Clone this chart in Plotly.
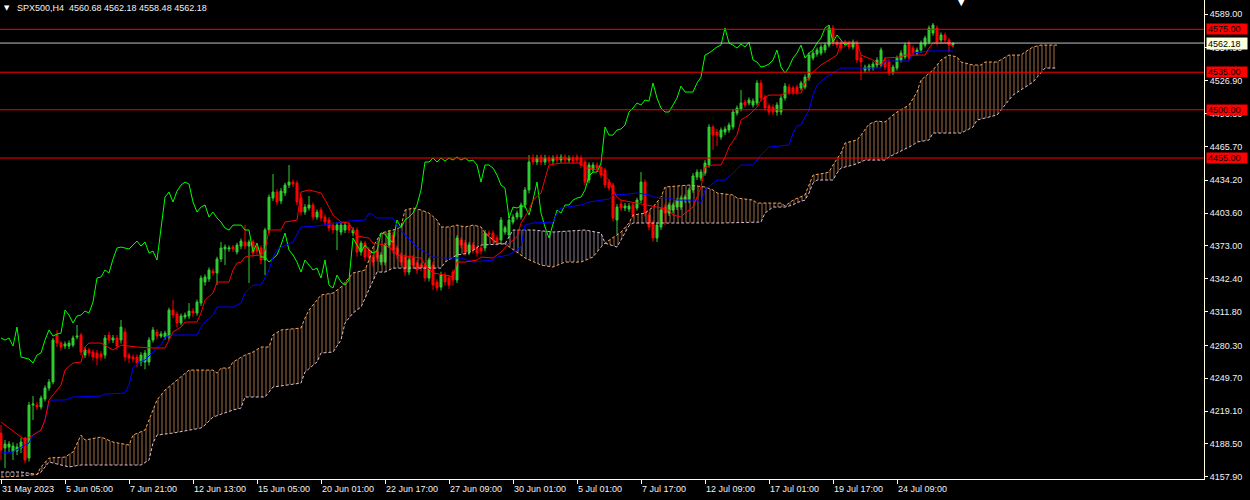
import plotly.graph_objects as go

# ---------------- data ----------------
opens = [
 4198.6,4184.6,4185.6,4180.9,4181.8,4184.6,4194.0,4175.3,4224.7,4224.7,
 4222.9,4230.3,4240.6,4246.2,4290.0,4282.5,4279.7,4279.7,4280.6,4288.1,
 4290.0,4271.3,4276.0,4274.1,4273.2,4272.3,4271.3,4290.0,4285.3,4287.2,
 4285.3,4292.8,4271.3,4269.5,4269.5,4264.8,4264.8,4264.8,4285.3,4292.8,
 4289.0,4288.1,4288.1,4313.3,4309.5,4301.2,4306.8,4307.7,4312.3,4310.5,
 4319.8,4339.4,4342.2,4349.6,4347.8,4360.8,4370.2,4370.2,4372.0,4367.4,
 4372.9,4376.7,4372.9,4376.7,4372.0,4371.1,4359.9,4387.9,4417.7,4423.3,
 4414.9,4422.4,4429.8,4432.6,4431.7,4417.7,4404.6,4408.4,4411.2,4400.0,
 4406.5,4400.0,4397.2,4392.5,4387.9,4386.0,4387.9,4392.5,4385.1,4387.9,
 4367.4,4375.7,4369.2,4362.7,4367.4,4358.0,4358.0,4373.9,4383.2,4371.1,
 4364.6,4362.7,4348.7,4361.8,4357.1,4355.2,4355.2,4343.1,4355.2,4339.4,
 4334.7,4345.9,4343.1,4348.7,4341.3,4378.5,4375.7,4367.4,4373.9,4371.1,
 4371.1,4371.1,4385.1,4385.1,4380.4,4378.5,4386.0,4383.2,4395.3,4400.0,
 4400.0,4411.2,4425.2,4455.0,4451.3,4456.0,4451.3,4455.0,4452.2,4456.0,
 4453.1,4456.0,4453.1,4455.0,4456.0,4455.0,4451.3,4434.5,4443.8,4448.5,
 4446.6,4443.8,4432.6,4429.8,4397.2,4412.1,4408.4,4407.4,4411.2,4408.4,
 4415.8,4432.6,4401.9,4394.4,4380.4,4390.7,4409.3,4403.7,4406.5,4409.3,
 4409.3,4415.8,4415.8,4425.2,4437.3,4436.4,4441.0,4448.5,4483.9,4479.2,
 4474.6,4479.2,4481.1,4483.9,4496.9,4500.7,4507.2,4506.3,4504.4,4506.3,
 4524.9,4511.9,4503.5,4502.5,4497.9,4497.9,4510.9,4521.2,4520.3,4521.2,
 4520.3,4521.2,4529.6,4548.2,4552.0,4552.9,4555.7,4560.3,4576.2,4563.1,
 4562.2,4563.1,4562.2,4558.5,4562.2,4548.2,4537.0,4538.0,4538.9,4541.7,
 4541.7,4546.4,4544.5,4535.2,4538.9,4546.4,4549.2,4562.2,4557.5,4552.9,
 4555.7,4560.3,4563.1,4571.5,4576.2,4565.0,4569.7,4565.0,4560.68]

highs = [
 4206.1,4192.1,4191.0,4190.0,4189.0,4194.0,4194.9,4227.5,4233.1,4227.5,
 4233.5,4243.0,4249.0,4287.2,4294.7,4284.5,4284.0,4285.0,4289.5,4299.3,
 4292.0,4278.5,4278.0,4276.5,4276.0,4275.0,4290.0,4293.0,4290.0,4290.0,
 4304.0,4296.0,4273.5,4272.0,4272.0,4274.0,4276.0,4288.0,4297.5,4295.5,
 4293.5,4294.0,4315.5,4322.6,4312.0,4310.0,4311.0,4319.8,4315.0,4323.0,
 4345.5,4346.5,4353.0,4352.0,4363.0,4376.7,4374.5,4373.5,4374.0,4376.0,
 4380.0,4392.5,4379.0,4379.0,4374.5,4373.5,4390.0,4421.0,4440.1,4426.0,
 4427.0,4432.0,4448.5,4435.0,4434.0,4420.0,4412.0,4419.6,4413.5,4407.0,
 4409.0,4402.5,4400.0,4395.0,4395.0,4395.0,4395.5,4395.0,4390.5,4390.5,
 4378.0,4378.0,4372.0,4365.0,4370.0,4367.0,4376.0,4388.0,4386.0,4373.5,
 4367.0,4365.0,4362.5,4364.5,4359.5,4357.5,4357.5,4362.0,4358.0,4342.0,
 4349.0,4348.5,4346.0,4351.0,4383.0,4381.0,4378.5,4376.5,4376.5,4373.5,
 4373.5,4388.0,4387.5,4387.5,4383.0,4400.0,4392.0,4400.0,4402.5,4406.0,
 4413.5,4428.0,4457.8,4458.5,4458.0,4458.5,4458.0,4457.5,4457.5,4458.5,
 4458.5,4458.5,4457.5,4457.5,4458.5,4457.5,4453.5,4451.0,4451.0,4451.0,
 4449.0,4446.0,4435.0,4432.0,4412.0,4415.8,4413.0,4413.0,4413.5,4418.0,
 4441.9,4435.0,4404.5,4397.0,4395.0,4409.0,4412.0,4413.5,4413.5,4418.0,
 4420.0,4421.0,4427.5,4441.0,4444.5,4444.5,4453.0,4486.5,4485.8,4482.0,
 4483.5,4484.5,4488.0,4500.5,4504.0,4518.4,4509.5,4511.5,4510.5,4527.5,
 4527.7,4514.0,4506.0,4505.0,4507.0,4513.5,4525.0,4524.0,4522.5,4523.5,
 4527.0,4533.0,4553.5,4555.0,4558.0,4561.0,4562.5,4579.0,4579.0,4565.5,
 4564.5,4565.0,4564.5,4565.5,4564.5,4551.0,4542.0,4543.0,4545.0,4549.0,
 4558.0,4549.0,4547.0,4542.0,4550.5,4555.5,4562.5,4564.5,4560.0,4558.0,
 4564.5,4569.0,4578.5,4580.9,4578.5,4572.0,4572.0,4567.0,4562.18]

lows = [
 4173.4,4166.0,4181.0,4173.4,4178.0,4180.0,4170.6,4172.0,4210.7,4220.0,
 4220.5,4228.0,4238.0,4244.0,4278.8,4275.5,4277.0,4277.0,4278.5,4286.0,
 4271.0,4268.5,4270.0,4266.0,4262.0,4266.0,4268.0,4282.0,4282.5,4276.0,
 4282.0,4265.5,4264.0,4264.5,4260.0,4261.0,4258.0,4261.5,4283.0,4286.0,
 4287.0,4285.5,4285.0,4305.5,4297.0,4299.0,4304.5,4305.0,4307.0,4308.0,
 4317.0,4336.0,4339.5,4345.5,4336.6,4358.0,4355.2,4367.5,4367.5,4365.0,
 4370.0,4370.0,4338.5,4363.0,4365.0,4356.0,4345.9,4385.0,4415.0,4411.0,
 4412.0,4419.5,4427.0,4428.0,4411.0,4401.5,4402.0,4406.0,4397.0,4397.5,
 4396.0,4392.0,4386.5,4384.5,4369.2,4383.0,4385.0,4385.0,4382.0,4363.0,
 4364.0,4359.0,4359.5,4354.0,4358.5,4355.0,4355.0,4371.0,4366.0,4361.0,
 4354.5,4345.0,4346.0,4352.0,4347.0,4349.5,4339.5,4340.0,4332.0,4331.0,
 4331.5,4336.0,4333.0,4336.5,4338.5,4371.0,4364.0,4364.5,4366.0,4363.0,
 4365.0,4368.0,4381.0,4375.5,4373.5,4375.5,4383.5,4380.5,4393.0,4397.5,
 4397.5,4408.0,4422.0,4448.5,4448.5,4448.5,4448.5,4449.5,4449.5,4450.5,
 4450.5,4450.5,4450.5,4449.5,4450.5,4446.0,4429.5,4431.5,4441.0,4443.0,
 4436.5,4427.0,4424.5,4396.0,4384.1,4405.5,4405.5,4404.5,4399.0,4406.0,
 4413.0,4400.5,4387.5,4377.0,4376.7,4388.0,4392.5,4401.0,4403.5,4406.5,
 4406.5,4413.0,4413.0,4422.5,4434.5,4433.5,4438.5,4446.0,4462.5,4466.0,
 4472.0,4476.5,4478.5,4481.5,4494.5,4498.5,4502.0,4504.0,4502.0,4504.0,
 4508.5,4499.0,4495.0,4495.0,4494.5,4495.1,4508.5,4514.0,4514.0,4514.0,
 4518.0,4519.0,4527.0,4546.0,4549.5,4550.5,4553.0,4558.0,4559.5,4557.5,
 4555.0,4558.5,4556.0,4556.0,4543.5,4527.7,4534.5,4535.5,4536.5,4539.0,
 4539.0,4537.0,4531.5,4532.5,4536.5,4544.0,4547.0,4545.5,4550.0,4550.5,
 4553.0,4558.0,4561.0,4569.0,4560.5,4562.5,4562.5,4553.8,4558.48]

closes = [
 4182.8,4188.4,4188.4,4186.5,4185.6,4190.2,4173.4,4224.7,4225.7,4222.9,
 4231.2,4240.6,4246.2,4285.3,4282.5,4278.8,4281.6,4282.5,4287.2,4289.0,
 4274.1,4276.0,4273.2,4269.5,4268.5,4269.5,4287.2,4285.3,4287.2,4279.7,
 4297.4,4269.5,4268.5,4267.6,4263.9,4271.3,4273.2,4285.3,4294.7,4289.0,
 4290.9,4291.8,4313.3,4308.6,4301.2,4307.7,4308.6,4312.3,4310.5,4320.7,
 4343.1,4344.1,4350.6,4347.8,4360.8,4371.1,4372.0,4371.1,4370.2,4373.9,
 4377.6,4372.9,4376.7,4366.4,4368.3,4359.9,4387.9,4418.6,4423.3,4414.0,
 4424.2,4429.8,4432.6,4430.7,4414.0,4404.6,4409.3,4411.2,4400.0,4404.6,
 4399.1,4395.3,4389.7,4387.9,4392.5,4392.5,4392.5,4387.9,4387.9,4367.4,
 4375.7,4362.7,4362.7,4358.0,4361.8,4364.6,4373.9,4385.1,4369.2,4364.6,
 4358.0,4348.7,4359.9,4355.2,4350.6,4352.4,4343.1,4359.9,4336.6,4333.8,
 4345.9,4339.4,4336.6,4341.3,4380.4,4373.9,4367.4,4373.9,4369.2,4366.4,
 4368.3,4385.1,4384.1,4378.5,4376.7,4397.2,4390.0,4397.2,4400.0,4403.7,
 4411.2,4425.2,4451.3,4451.3,4455.0,4451.3,4455.0,4452.2,4455.0,4453.1,
 4456.0,4453.1,4455.0,4452.2,4453.1,4448.5,4432.6,4448.5,4448.5,4445.7,
 4439.1,4429.8,4427.0,4399.1,4409.3,4408.4,4410.2,4410.2,4401.9,4415.8,
 4432.6,4403.7,4390.7,4380.4,4392.5,4406.5,4403.7,4411.2,4411.2,4415.8,
 4417.7,4418.6,4425.2,4438.2,4441.9,4441.9,4450.3,4483.9,4476.4,4476.4,
 4481.1,4482.0,4485.8,4497.9,4501.6,4506.3,4504.4,4509.1,4508.1,4524.9,
 4510.9,4501.6,4497.9,4497.9,4504.4,4510.9,4522.1,4516.5,4516.5,4516.5,
 4524.9,4530.5,4551.0,4552.9,4555.7,4558.5,4560.3,4576.2,4562.2,4560.3,
 4557.5,4561.3,4558.5,4563.1,4546.4,4544.5,4539.8,4540.8,4542.6,4546.4,
 4555.7,4539.8,4534.2,4539.8,4548.2,4552.9,4560.3,4548.2,4552.9,4555.7,
 4562.2,4566.9,4576.2,4579.0,4563.1,4569.7,4565.0,4560.3,4562.18]

# Tenkan-sen (red) and Kijun-sen (blue): (bar index, price)
tenkan_idx = [0,6,8,10,11,12,15,16,18,20,21,22,25,28,30,34,38,41,42,43,45,46,49,50,51,53,54,57,58,59,60,61,62,65,66,67,70,71,74,75,77,80,82,83,85,87,88,89,92,93,96,98,99,103,105,106,108,111,113,114,116,119,120,123,125,127,129,130,132,133,135,137,140,145,146,147,149,150,152,153,154,155,159,162,164,167,168,170,171,173,174,175,176,178,180,181,182,184,185,187,189,190,192,195,196,200,201,203,205,207,209,210,214,215,217,218,219,220,221,225,226,231,232,233,237,238]
tenkan_val = [4208.9,4192.1,4196.7,4201.4,4210.7,4229.4,4243.4,4257.3,4263.9,4264.8,4278.8,4282.5,4282.5,4276.0,4280.6,4278.8,4277.9,4277.9,4285.3,4292.8,4297.4,4302.1,4302.1,4310.5,4322.6,4329.1,4339.4,4339.4,4350.6,4357.1,4358.0,4362.7,4363.6,4364.6,4369.2,4387.9,4387.9,4395.3,4397.2,4423.3,4425.2,4422.4,4409.3,4401.9,4395.3,4394.4,4387.9,4382.3,4380.4,4375.7,4373.9,4369.2,4364.6,4362.7,4361.8,4355.2,4347.8,4345.9,4344.1,4358.0,4358.0,4359.9,4362.7,4361.8,4367.4,4375.7,4381.4,4394.4,4406.5,4415.8,4422.4,4448.5,4450.3,4450.3,4445.7,4445.7,4443.8,4441.0,4434.5,4425.2,4418.6,4415.8,4413.0,4411.2,4409.3,4406.5,4401.9,4400.0,4403.7,4409.3,4418.6,4427.9,4446.6,4448.5,4448.5,4456.0,4465.3,4476.4,4490.4,4495.1,4502.5,4509.1,4513.7,4513.7,4515.6,4515.6,4524.9,4535.2,4541.7,4546.4,4551.0,4563.1,4563.1,4551.0,4548.2,4546.4,4543.6,4541.7,4548.2,4549.2,4551.0,4551.0,4557.5,4562.2,4562.2,4558.5]

kijun_idx = [0,3,6,7,8,10,11,12,13,16,18,25,26,31,32,33,34,36,38,39,40,41,43,49,50,51,53,54,58,60,61,63,65,67,68,69,70,73,75,79,87,91,92,93,94,98,99,101,104,106,108,111,115,118,123,124,127,130,131,133,138,139,140,145,147,152,153,157,159,162,163,167,169,174,175,176,179,181,183,185,188,190,192,197,198,199,200,201,202,203,204,206,208,210,220,221,224,227,228,232,238]
kijun_val = [4180.0,4180.9,4187.4,4189.3,4196.7,4201.4,4210.7,4227.5,4229.4,4229.4,4232.2,4233.1,4235.0,4235.9,4243.4,4259.2,4263.9,4266.7,4274.1,4278.8,4280.6,4288.1,4290.0,4290.0,4297.4,4302.1,4308.6,4316.1,4316.1,4319.8,4329.1,4336.6,4336.6,4350.6,4362.7,4369.2,4372.0,4376.7,4390.7,4391.6,4396.3,4397.2,4403.7,4401.9,4399.1,4399.1,4392.5,4383.2,4372.0,4367.4,4362.7,4361.8,4361.8,4358.0,4359.9,4362.7,4364.6,4372.0,4392.5,4394.4,4395.3,4403.7,4408.4,4411.2,4414.0,4416.8,4420.5,4421.4,4422.4,4420.5,4418.6,4417.7,4415.8,4415.8,4413.0,4425.2,4434.5,4434.5,4441.0,4448.5,4448.5,4457.8,4465.3,4467.1,4478.3,4484.8,4485.8,4493.2,4499.7,4513.7,4523.0,4529.6,4534.2,4538.9,4538.9,4545.4,4545.4,4545.4,4552.9,4554.8,4554.8]

# Senkou Span A (sandy) and Span B (thistle), drawn 26 bars ahead
span_a_idx = [0,5,9,10,12,16,18,20,21,24,25,28,32,33,36,39,41,44,47,53,54,55,57,58,61,63,65,67,68,70,75,76,77,80,83,85,88,91,92,93,95,98,100,101,103,105,107,109,110,112,114,116,118,120,121,124,126,
              131,135,138,141,145,148,150,151,
              155,157,158,161,163,165,166,172,176,178,179,183,184,188,189,195,196,198,201,203,206,207,208,210,211,214,215,216,217,219,221,223,224,227,229,230,233,235,237,239,240,243,245,246,249,252,255,256,258,260,264]
span_a_val = [4157.6,4158.5,4160.0,4167.0,4175.3,4176.2,4180.9,4196.7,4192.1,4193.9,4194.9,4190.2,4187.4,4196.7,4201.4,4229.4,4238.7,4248.0,4257.3,4257.3,4254.5,4259.2,4259.2,4264.8,4271.3,4274.1,4278.8,4278.8,4290.0,4294.7,4296.5,4305.8,4313.3,4327.3,4329.1,4334.7,4347.8,4350.6,4359.9,4372.0,4385.1,4387.9,4390.7,4406.5,4408.4,4406.5,4403.7,4397.2,4390.7,4390.7,4392.5,4390.7,4392.5,4390.7,4385.1,4375.7,4375.0,
              4361.8,4355.2,4353.4,4358.0,4358.0,4362.7,4372.0,4375.7,
              4386.0,4394.4,4401.9,4403.7,4409.3,4418.6,4428.0,4429.8,4428.0,4425.2,4422.4,4420.5,4417.7,4415.8,4413.0,4413.0,4410.2,4415.8,4420.5,4439.1,4441.0,4441.9,4448.5,4459.7,4469.0,4471.8,4476.4,4482.0,4486.7,4489.5,4488.6,4495.1,4497.9,4504.4,4516.5,4527.7,4537.0,4546.4,4551.0,4549.2,4544.5,4541.7,4541.7,4544.5,4544.5,4551.0,4551.0,4553.8,4558.5,4560.3,4560.3]

span_b_idx = [0,5,9,10,12,17,20,35,37,38,39,43,50,51,53,58,60,61,66,68,75,76,79,80,83,85,86,88,90,92,94,96,98,110,111,114,117,120,126,
              128,133,138,146,150,151,
              154,156,157,158,180,190,191,193,196,198,199,201,202,203,204,208,209,210,213,215,216,221,222,228,229,232,233,240,243,244,246,249,252,253,258,260,261,264]
span_b_val = [4162.3,4162.3,4160.0,4162.3,4171.6,4167.0,4168.8,4168.8,4173.4,4189.3,4196.7,4198.6,4203.3,4206.1,4213.5,4220.1,4221.9,4232.2,4232.2,4241.5,4245.2,4255.5,4264.8,4273.2,4274.1,4285.3,4301.2,4310.5,4316.1,4331.9,4348.7,4348.7,4352.4,4352.4,4358.0,4364.6,4366.4,4373.9,4375.0,
              4387.9,4387.9,4386.0,4387.9,4385.1,4375.7,
              4372.0,4386.0,4392.0,4394.4,4394.4,4395.3,4403.7,4409.3,4409.3,4411.2,4413.5,4415.8,4422.4,4431.7,4434.5,4434.5,4441.0,4445.7,4448.5,4451.3,4453.1,4453.1,4456.0,4467.1,4469.9,4471.8,4478.3,4478.3,4483.9,4490.4,4492.3,4495.1,4509.1,4513.7,4525.8,4535.2,4538.9,4538.9]

# cloud segments between crossings and whether Span A is on top
cloud_bounds = [(0, 9), (9, 126), (126, 151), (151, 264)]
cloud_a_on_top = [False, True, False, True]

chikou_shift = 26

levels = [4575.0, 4535.0, 4500.0, 4455.0]
bid = 4562.18

y_ticks = [4589.00, 4557.90, 4526.90, 4496.30, 4465.70, 4434.20, 4403.60, 4373.00,
           4342.40, 4311.80, 4280.30, 4249.70, 4219.10, 4188.50, 4157.90]
x_tick_bars = [0, 16, 32, 48, 64, 80, 96, 112, 128, 144, 160, 176, 192, 208, 224]
x_tick_labels = ["31 May 2023", "5 Jun 05:00", "7 Jun 21:00", "12 Jun 13:00", "15 Jun 05:00",
                 "20 Jun 01:00", "22 Jun 17:00", "27 Jun 09:00", "30 Jun 01:00", "5 Jul 01:00",
                 "7 Jul 17:00", "12 Jul 09:00", "17 Jul 01:00", "19 Jul 17:00", "24 Jul 09:00"]
title_text = "SPX500,H4  4560.68 4562.18 4558.48 4562.18"

# ---------------- styling ----------------
SANDY = "#F4A460"
THISTLE = "#D8BFD8"
BULL = "#32CD32"
BEAR = "#FF0000"
FG = "#F2F2F2"
AXIS = "#FFFFE0"
FONT = "Liberation Sans, Arial, sans-serif"

bars = list(range(len(closes)))
fig = go.Figure()

# cloud hatching
for (lo, hi), a_top in zip(cloud_bounds, cloud_a_on_top):
    ax = [i for i in span_a_idx if lo <= i <= hi]
    ay = [v for i, v in zip(span_a_idx, span_a_val) if lo <= i <= hi]
    bx = [i for i in span_b_idx if lo <= i <= hi]
    by = [v for i, v in zip(span_b_idx, span_b_val) if lo <= i <= hi]
    col = SANDY if a_top else THISTLE
    fig.add_trace(go.Scatter(
        x=ax + bx[::-1], y=ay + by[::-1], mode="lines", line=dict(width=0),
        fill="toself", fillcolor="rgba(0,0,0,0)",
        fillpattern=dict(shape="|", fgcolor=col, fgopacity=0.65, size=4, solidity=0.25),
        hoverinfo="skip", showlegend=False))

fig.add_trace(go.Scatter(x=span_b_idx, y=span_b_val, mode="lines",
                         line=dict(color=THISTLE, width=1, dash="3px,2px"), showlegend=False))
fig.add_trace(go.Scatter(x=span_a_idx, y=span_a_val, mode="lines",
                         line=dict(color=SANDY, width=1, dash="3px,2px"), showlegend=False))

fig.add_trace(go.Candlestick(
    x=bars, open=opens, high=highs, low=lows, close=closes,
    increasing=dict(line=dict(color=BULL, width=1), fillcolor=BULL),
    decreasing=dict(line=dict(color=BEAR, width=1), fillcolor=BEAR),
    whiskerwidth=0, showlegend=False))

# Chikou span: closes drawn 26 bars back
fig.add_trace(go.Scatter(x=[i - chikou_shift for i in bars[chikou_shift:]], y=closes[chikou_shift:],
                         mode="lines", line=dict(color="#00FF00", width=1), showlegend=False))
fig.add_trace(go.Scatter(x=kijun_idx, y=kijun_val, mode="lines",
                         line=dict(color="#0000FF", width=1), showlegend=False))
fig.add_trace(go.Scatter(x=tenkan_idx, y=tenkan_val, mode="lines",
                         line=dict(color="#FF0000", width=1), showlegend=False))

shapes = []
for lv in levels:
    shapes.append(dict(type="line", xref="paper", x0=0, x1=1, yref="y", y0=lv, y1=lv,
                       line=dict(color="#FF0000", width=1)))
shapes.append(dict(type="line", xref="paper", x0=0, x1=1, yref="y", y0=bid, y1=bid,
                   line=dict(color="#C0C0C0", width=1)))

annotations = []
for lv in levels:
    annotations.append(dict(xref="paper", x=1, xanchor="left", xshift=2, yref="y", y=lv,
                            yanchor="middle", text=f"{lv:.2f}", showarrow=False,
                            font=dict(family=FONT, size=9, color="#000000"),
                            bgcolor="#FF0000", width=38, height=8, borderpad=1, align="left"))
annotations.append(dict(xref="paper", x=1, xanchor="left", xshift=2, yref="y", y=bid,
                        yanchor="middle", text=f"{bid:.2f}", showarrow=False,
                        font=dict(family=FONT, size=9, color="#000000"),
                        bgcolor="#FFFFDD", width=38, height=9, borderpad=1, align="left"))
for b, lab in zip(x_tick_bars, x_tick_labels):
    annotations.append(dict(xref="x", x=b, xanchor="left", xshift=-1, yref="paper", y=0,
                            yanchor="top", yshift=-3, text=lab, showarrow=False,
                            font=dict(family=FONT, size=9, color=FG)))
annotations.append(dict(xref="paper", x=15 / 1204, xanchor="left", yref="paper", y=1,
                        yanchor="top", yshift=-1, text=title_text, showarrow=False,
                        font=dict(family=FONT, size=9, color=FG)))
annotations.append(dict(xref="paper", x=2 / 1204, xanchor="left", yref="paper", y=1,
                        yanchor="top", yshift=-2, text="▼", showarrow=False,
                        font=dict(family="DejaVu Sans", size=7, color="#FFFFFF")))
annotations.append(dict(xref="paper", x=961 / 1204, xanchor="center", yref="paper", y=1,
                        yanchor="top", yshift=7, text="▼", showarrow=False,
                        font=dict(family="DejaVu Sans", size=11, color="#FFFFFF")))

fig.update_layout(
    width=1250, height=500,
    margin=dict(l=0, r=46, t=0, b=21),
    paper_bgcolor="#000000", plot_bgcolor="#000000",
    showlegend=False, hovermode=False,
    shapes=shapes, annotations=annotations,
    font=dict(family=FONT, size=9, color=FG),
    xaxis=dict(range=[-0.25, 300.75], showgrid=False, zeroline=False,
               rangeslider=dict(visible=False), showline=True, linecolor=AXIS, linewidth=1,
               ticks="outside", ticklen=4, tickcolor=AXIS, tickwidth=1,
               tickmode="array", tickvals=x_tick_bars, showticklabels=False),
    yaxis=dict(range=[4155.76, 4602.33], side="right", showgrid=False, zeroline=False,
               showline=True, linecolor=AXIS, linewidth=1,
               ticks="outside", ticklen=3, tickcolor=AXIS, tickwidth=1,
               tickmode="array", tickvals=y_ticks, ticktext=[f"{v:.2f}" for v in y_ticks],
               tickfont=dict(family=FONT, size=9, color=FG)),
)

fig.write_html("out.html", config={"displayModeBar": False},
               post_script="document.body.style.margin='0';document.body.style.background='#000';")
